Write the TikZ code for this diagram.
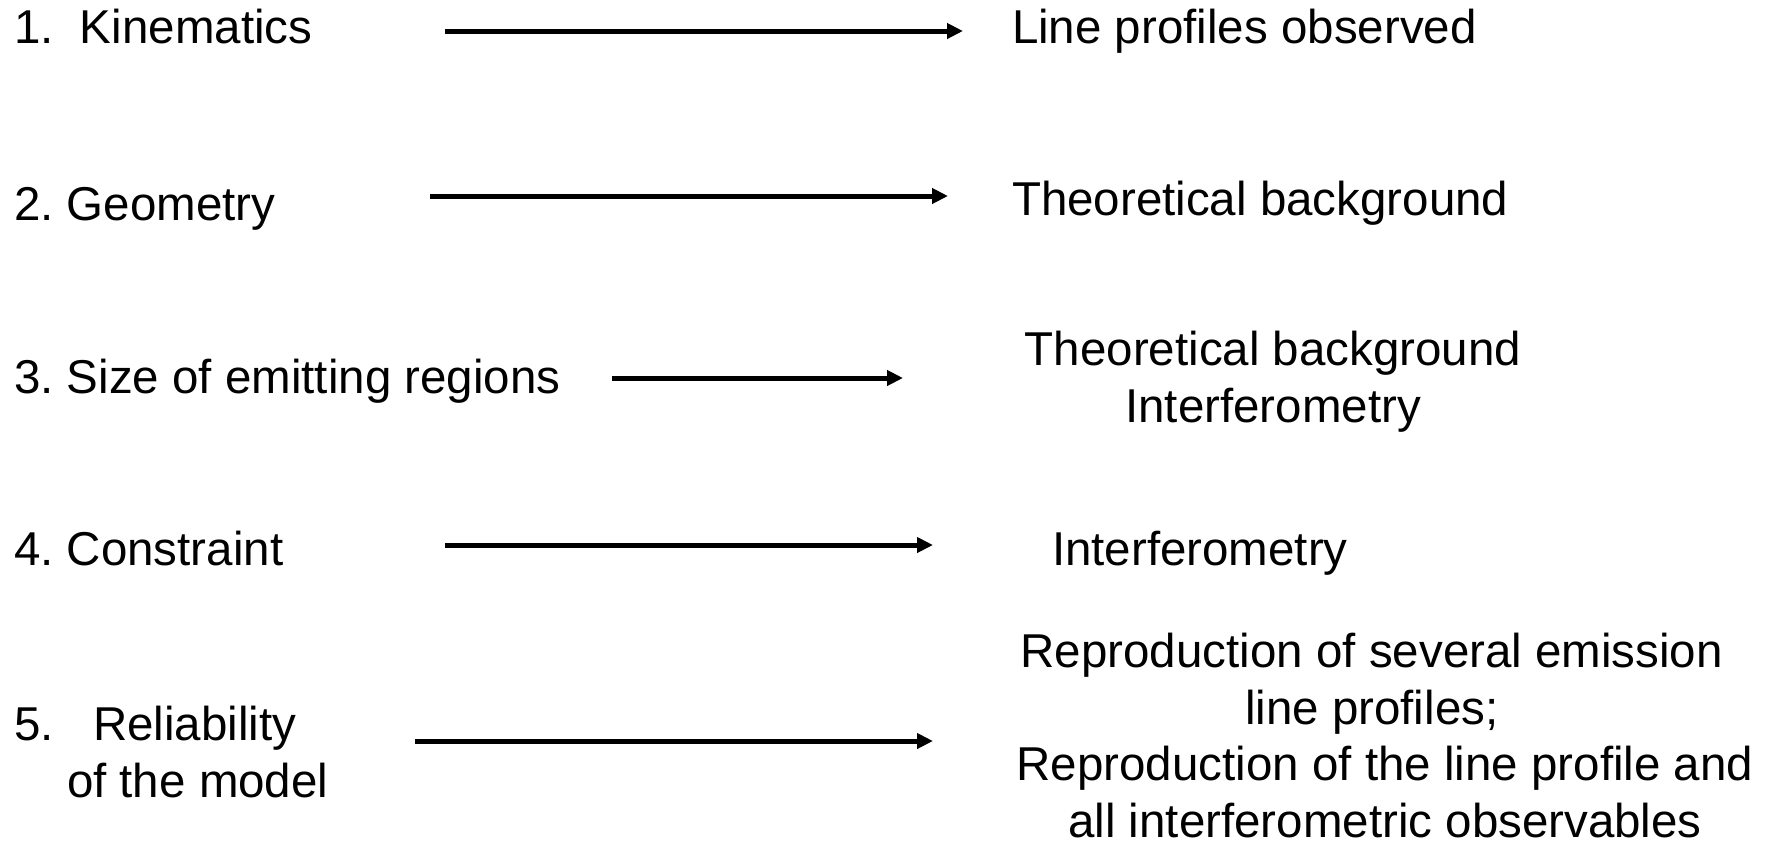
\documentclass[tikz,border=0pt]{standalone}
\usepackage{fontspec}
\setmainfont{Liberation Sans}
\frenchspacing
\usetikzlibrary{arrows.meta}
\tikzset{
  lbl/.style={anchor=base west, inner sep=0pt, outer sep=0pt, font=\fontsize{47.5}{57}\selectfont},
  ctr/.style={anchor=base, inner sep=0pt, outer sep=0pt, align=center, font=\fontsize{47.5}{56.5}\selectfont},
  arr/.style={line width=5pt, -{Triangle[length=16pt,width=15pt]}}
}
\begin{document}
\begin{tikzpicture}[x=1pt,y=-1pt]
\useasboundingbox (0,0) rectangle (1770,844);
% left labels
\node[lbl] (l1) at (14,43) {1.\ \ Kinematics};
\node[lbl] (l2) at (14,220) {2. Geometry};
\node[lbl] (l3) at (14,393) {3. Size of emitting regions};
\node[lbl] (l4) at (14,565) {4. Constraint};
\node[lbl, align=left] (l5) at (14,797) {5.\ \ \ Reliability\\\hspace*{53pt}of the model};
% right labels
\node[lbl] (r1) at (1012,43) {Line profiles observed};
\node[lbl] (r2) at (1012,215) {Theoretical background};
\node[ctr] (r3) at (1273,422) {Theoretical background\\Interferometry};
\node[lbl] (r4) at (1052,565) {Interferometry};
\node[ctr] (r5) at (1385,837) {Reproduction of several emission\hphantom{n}\\line profiles;\hphantom{n}\\Reproduction of the line profile and\\all interferometric observables};
% arrow ends
\coordinate (a1s) at (445,31);  \coordinate (a1e) at (963,31);
\coordinate (a2s) at (430,196); \coordinate (a2e) at (948,196);
\coordinate (a3s) at (612,378); \coordinate (a3e) at (903,378);
\coordinate (a4s) at (445,545); \coordinate (a4e) at (933,545);
\coordinate (a5s) at (415,741); \coordinate (a5e) at (933,741);
\draw[arr] (a1s) -- (a1e);
\draw[arr] (a2s) -- (a2e);
\draw[arr] (a3s) -- (a3e);
\draw[arr] (a4s) -- (a4e);
\draw[arr] (a5s) -- (a5e);
\end{tikzpicture}
\end{document}
